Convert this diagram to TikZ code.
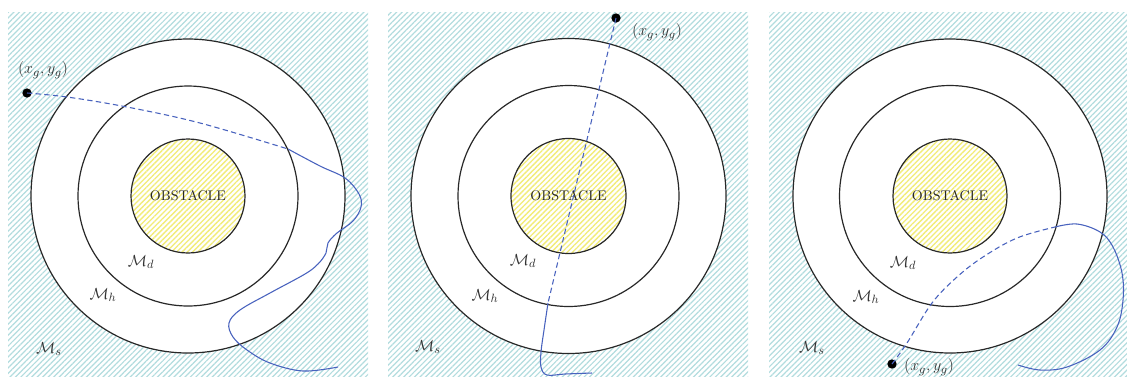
\documentclass[tikz,border=0pt]{standalone}
\usetikzlibrary{patterns.meta}
\definecolor{hatchc}{RGB}{178,220,222}
\definecolor{hatchy}{RGB}{242,236,120}
\definecolor{pathblue}{RGB}{72,98,190}
\definecolor{ringc}{RGB}{40,40,40}
\tikzset{
  panel/.style={pattern={Lines[angle=45, distance=2.9pt, line width=0.9pt]}, pattern color=hatchc},
  ring/.style={draw=ringc, line width=0.9pt, fill=white},
  obst/.style={draw=ringc, line width=0.9pt, pattern={Lines[angle=45, distance=2.8pt, line width=1pt]}, pattern color=hatchy},
  goal/.style={circle, fill=black, inner sep=0pt, minimum size=7pt},
  lbl/.style={font=\fontsize{13}{15}\selectfont, text=black!80, inner sep=0pt},
  obstlbl/.style={font=\fontsize{10.5}{12}\selectfont, text=black!85, inner sep=0pt},
  plan/.style={draw=pathblue, line width=0.8pt, dash pattern=on 4pt off 2.5pt},
  traj/.style={draw=pathblue, line width=0.8pt},
}
\begin{document}
\begin{tikzpicture}[x=0.75pt, y=-0.75pt]
\useasboundingbox (0,0) rectangle (1127,376);
% ---------- Panel 1 ----------
\begin{scope}
\clip (8,12) rectangle (368,376);
\fill[panel] (8,12) rectangle (368,376);
\coordinate (c1) at (188,196);
\draw[ring] (c1) circle (157);
\draw[ring] (c1) circle (110);
\draw[obst] (c1) circle (57);
\node[obstlbl] (o1) at (c1) {OBSTACLE};
\node[lbl] (md1) at (141,262) {$\mathcal{M}_d$};
\node[lbl] (mh1) at (103,295) {$\mathcal{M}_h$};
\node[lbl] (ms1) at (49,349) {$\mathcal{M}_s$};
\node[goal] (g1) at (27,93) {};
\node[lbl] (gl1) at (43,70) {$(x_g,y_g)$};
\coordinate (w1) at (288,149);
\draw[plan] plot[smooth, tension=0.6] coordinates {(g1.center) (67,97) (127,107) (200,123) (w1)};
\draw[traj] plot[smooth, tension=0.6] coordinates {(w1) (320,166) (345,178) (359,194) (361,207) (353,221) (337,233) (328,243) (326,253) (318,264) (305,274) (270,293) (240,310) (229,323) (233,337) (247,350) (270,363) (303,371) (338,367)};
\end{scope}
% ---------- Panel 2 ----------
\begin{scope}
\clip (388,12) rectangle (748,376);
\fill[panel] (388,12) rectangle (748,376);
\coordinate (c2) at (568.5,196);
\draw[ring] (c2) circle (157.5);
\draw[ring] (c2) circle (110.5);
\draw[obst] (c2) circle (57.5);
\node[obstlbl] (o2) at (c2) {OBSTACLE};
\node[lbl] (md2) at (523,261) {$\mathcal{M}_d$};
\node[lbl] (mh2) at (485,296) {$\mathcal{M}_h$};
\node[lbl] (ms2) at (428,347) {$\mathcal{M}_s$};
\node[goal] (g2) at (616,18) {};
\node[lbl] (gl2) at (657,32) {$(x_g,y_g)$};
\coordinate (w2) at (548,303);
\draw[plan] (g2.center) -- (w2);
\draw[traj] plot[smooth, tension=0.6] coordinates {(w2) (544,330) (541,352) (541,367) (547,375) (565,374) (592,373)};
\end{scope}
% ---------- Panel 3 ----------
\begin{scope}
\clip (769,12) rectangle (1127,376);
\fill[panel] (769,12) rectangle (1127,376);
\coordinate (c3) at (950,196);
\draw[ring] (c3) circle (157);
\draw[ring] (c3) circle (110.5);
\draw[obst] (c3) circle (57);
\node[obstlbl] (o3) at (c3) {OBSTACLE};
\node[lbl] (md3) at (903,263) {$\mathcal{M}_d$};
\node[lbl] (mh3) at (866,297) {$\mathcal{M}_h$};
\node[lbl] (ms3) at (812,348) {$\mathcal{M}_s$};
\node[goal] (g3) at (892,364) {};
\node[lbl] (gl3) at (929,367) {$(x_g,y_g)$};
\coordinate (w3) at (1055,227);
\draw[plan] plot[smooth, tension=0.6] coordinates {(g3.center) (907,343) (932,303) (957,277) (983,257) (1017,238) (w3)};
\draw[traj] plot[smooth, tension=0.6] coordinates {(w3) (1077,224) (1100,232) (1113,247) (1122,273) (1123,300) (1117,327) (1100,350) (1067,367) (1040,370) (1018,365)};
\end{scope}
\end{tikzpicture}
\end{document}
